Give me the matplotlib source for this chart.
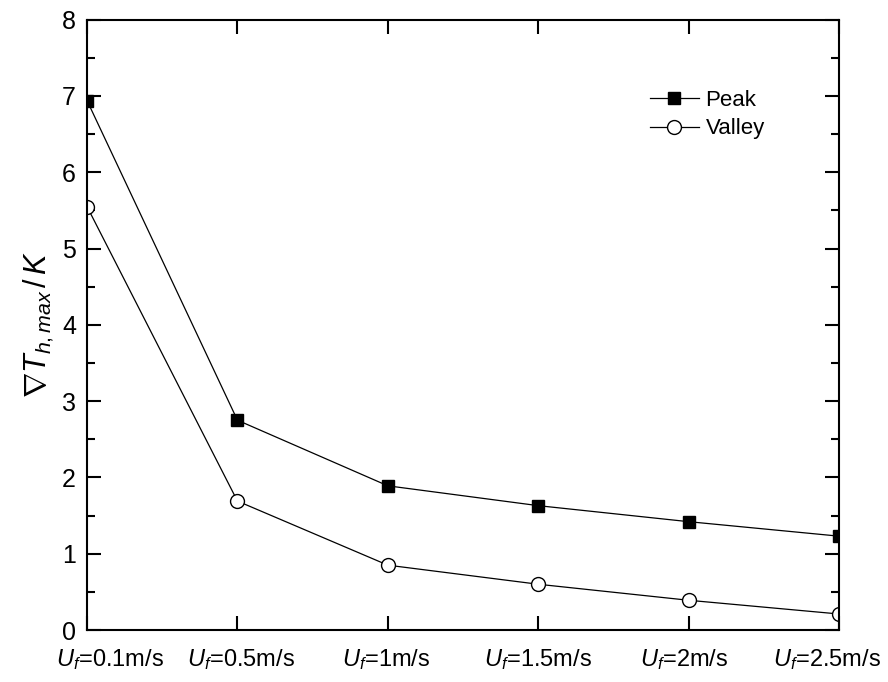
import numpy as np
import matplotlib.pyplot as plt
from matplotlib.ticker import MultipleLocator, NullLocator
from matplotlib.transforms import ScaledTranslation

plt.rcParams['font.family'] = ['Liberation Sans', 'DejaVu Sans']
plt.rcParams['mathtext.fontset'] = 'custom'
plt.rcParams['mathtext.rm'] = 'Liberation Sans'
plt.rcParams['mathtext.it'] = 'Liberation Sans:italic'

speeds = ['0.1', '0.5', '1', '1.5', '2', '2.5']
peak = [6.94, 2.75, 1.89, 1.63, 1.42, 1.23]
valley = [5.55, 1.69, 0.85, 0.60, 0.39, 0.21]

x = np.arange(len(speeds))
labels = [r'$U_f$=' + s + 'm/s' for s in speeds]

fig = plt.figure(figsize=(8.88, 6.82), dpi=100)
ax = fig.add_axes([0.098, 0.0762, 0.847, 0.895])

ax.plot(x, peak, '-s', color='black', lw=0.9, ms=9, mfc='black', label='Peak')
ax.plot(x, valley, '-o', color='black', lw=0.9, ms=10, mfc='white', mew=1.0,
        label='Valley')

ax.set_xlim(0, 5)
ax.set_ylim(0, 8)
ax.set_xticks(x)
ax.set_xticklabels(labels, fontsize=17)
ax.xaxis.set_minor_locator(NullLocator())
ax.yaxis.set_major_locator(MultipleLocator(1))
ax.yaxis.set_minor_locator(MultipleLocator(0.5))
ax.tick_params(axis='both', which='both', direction='in', top=True, right=True,
               width=1.5)
ax.tick_params(axis='both', which='major', length=10)
ax.tick_params(axis='y', which='minor', length=6)
ax.tick_params(axis='y', labelsize=18, pad=8)
ax.tick_params(axis='x', pad=12)
for s in ax.spines.values():
    s.set_linewidth(1.5)

# the edge labels sit nudged inwards in the original
shifts = [23, 4, -2, 0, -5, -12]
for lab, dx in zip(ax.get_xticklabels(), shifts):
    lab.set_transform(lab.get_transform() + ScaledTranslation(dx / 100, 0, fig.dpi_scale_trans))

ax.set_ylabel(r'$\nabla T_{h,max}\,/\,K$', fontsize=22, labelpad=4)

ax.legend(loc='upper right', bbox_to_anchor=(0.913, 0.90), frameon=False,
          fontsize=16, handlelength=2.2, handletextpad=0.3, labelspacing=0.35,
          borderaxespad=0)

fig.savefig('out.png', dpi=100)
